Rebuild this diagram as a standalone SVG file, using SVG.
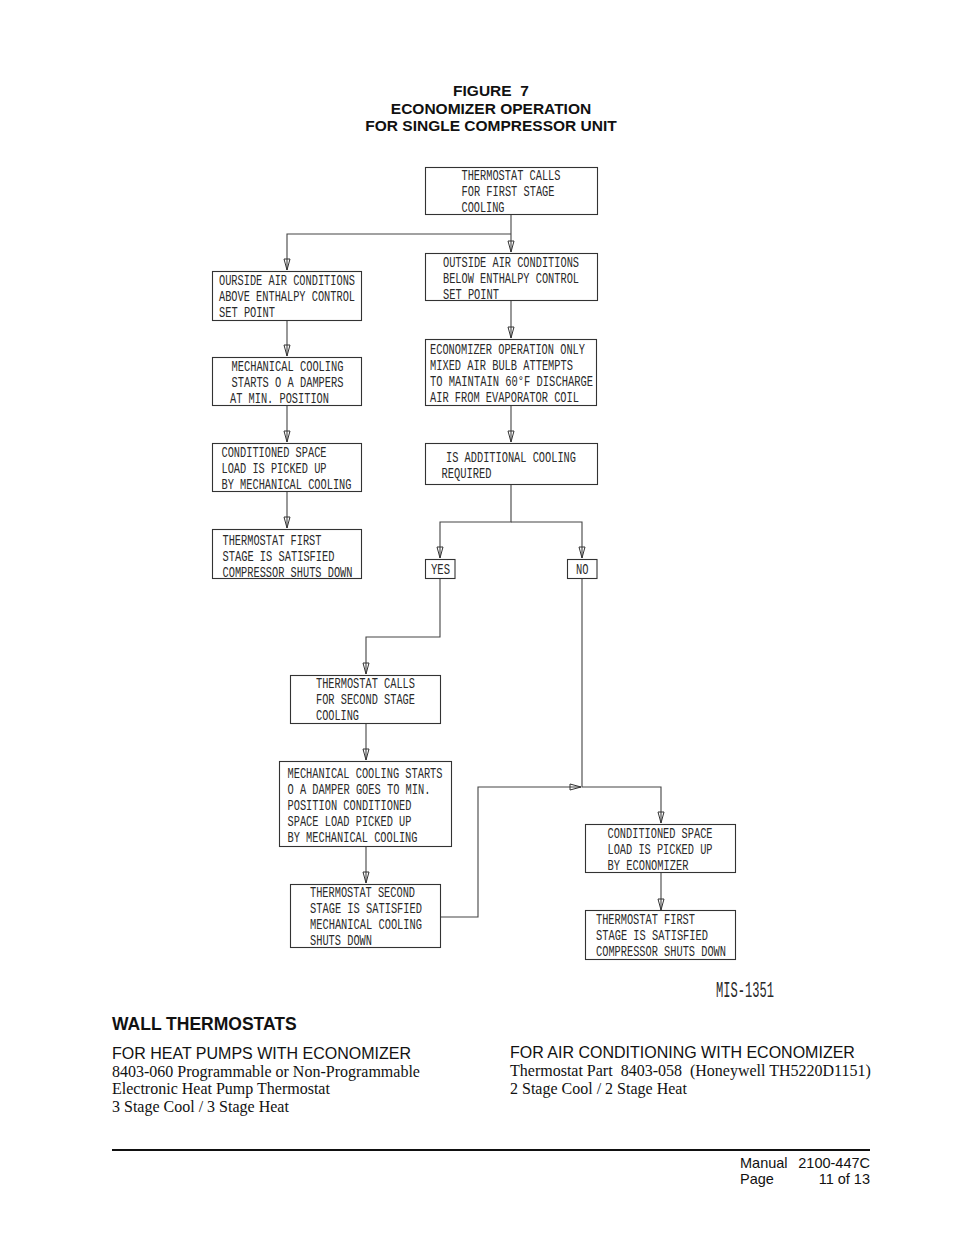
<svg xmlns="http://www.w3.org/2000/svg" width="954" height="1235" viewBox="0 0 954 1235">
<defs>
<marker id="ah" markerUnits="userSpaceOnUse" markerWidth="14" markerHeight="10" viewBox="-12 -5 14 10" refX="0" refY="0" orient="auto">
<path d="M-11,-3 L-11,3 L0,0 Z" fill="none" stroke="#333" stroke-width="1"/>
</marker>
<style>
.box{fill:#fff;stroke:#333;stroke-width:1.1}
.c{fill:none;stroke:#444;stroke-width:1.1}
.t{font-family:"Liberation Mono",monospace;font-size:15px;fill:#2a2a2a}
.h{font-family:"Liberation Sans",Arial,sans-serif;font-weight:bold;font-size:15.5px;fill:#111;text-anchor:middle}
.s{font-family:"Liberation Sans",Arial,sans-serif;fill:#111}
.r{font-family:"Liberation Serif","Times New Roman",serif;font-size:16px;fill:#111}
</style>
</defs>
<rect width="954" height="1235" fill="#fff"/>

<g id="title">
<text class="h" x="491" y="96" xml:space="preserve">FIGURE  7</text>
<text class="h" x="491" y="114">ECONOMIZER OPERATION</text>
<text class="h" x="491" y="131">FOR SINGLE COMPRESSOR UNIT</text>
</g>

<g id="connectors">
<path class="c" d="M511,215 V252" marker-end="url(#ah)"/>
<path class="c" d="M511,234 H287 V270" marker-end="url(#ah)"/>
<path class="c" d="M287,321 V356" marker-end="url(#ah)"/>
<path class="c" d="M287,406 V442" marker-end="url(#ah)"/>
<path class="c" d="M287,492 V528" marker-end="url(#ah)"/>
<path class="c" d="M511,301 V338" marker-end="url(#ah)"/>
<path class="c" d="M511,406 V442" marker-end="url(#ah)"/>
<path class="c" d="M511,484 V522 H440 V558" marker-end="url(#ah)"/>
<path class="c" d="M511,522 H582 V558" marker-end="url(#ah)"/>
<path class="c" d="M440,578 V637 H366 V674" marker-end="url(#ah)"/>
<path class="c" d="M366,723 V760" marker-end="url(#ah)"/>
<path class="c" d="M366,847 V883" marker-end="url(#ah)"/>
<path class="c" d="M441,917 H478 V787 H581" marker-end="url(#ah)"/>
<path class="c" d="M582,578 V787 H661 V823" marker-end="url(#ah)"/>
<path class="c" d="M661,873 V910" marker-end="url(#ah)"/>
</g>

<g id="n1">
<rect class="box" x="425.5" y="167.5" width="172" height="47"/>
<text class="t" x="461.5" y="180" textLength="99" lengthAdjust="spacingAndGlyphs">THERMOSTAT CALLS</text>
<text class="t" x="461.5" y="196" textLength="93" lengthAdjust="spacingAndGlyphs">FOR FIRST STAGE</text>
<text class="t" x="461.5" y="212" textLength="43" lengthAdjust="spacingAndGlyphs">COOLING</text>
</g>

<g id="n2">
<rect class="box" x="212.5" y="271.5" width="149" height="49"/>
<text class="t" x="219" y="285" textLength="136" lengthAdjust="spacingAndGlyphs">OURSIDE AIR CONDITIONS</text>
<text class="t" x="219" y="301" textLength="136" lengthAdjust="spacingAndGlyphs">ABOVE ENTHALPY CONTROL</text>
<text class="t" x="219" y="317" textLength="56" lengthAdjust="spacingAndGlyphs">SET POINT</text>
</g>

<g id="n3">
<rect class="box" x="425.5" y="253.5" width="172" height="47"/>
<text class="t" x="443" y="267" textLength="136" lengthAdjust="spacingAndGlyphs">OUTSIDE AIR CONDITIONS</text>
<text class="t" x="443" y="283" textLength="136" lengthAdjust="spacingAndGlyphs">BELOW ENTHALPY CONTROL</text>
<text class="t" x="443" y="298.5" textLength="56" lengthAdjust="spacingAndGlyphs">SET POINT</text>
</g>

<g id="n4">
<rect class="box" x="212.5" y="357.5" width="149" height="48"/>
<text class="t" x="231.5" y="371" textLength="112" lengthAdjust="spacingAndGlyphs">MECHANICAL COOLING</text>
<text class="t" x="231.5" y="387" textLength="112" lengthAdjust="spacingAndGlyphs">STARTS O A DAMPERS</text>
<text class="t" x="230" y="403" textLength="99" lengthAdjust="spacingAndGlyphs">AT MIN. POSITION</text>
</g>

<g id="n5">
<rect class="box" x="425.5" y="339.5" width="171" height="66"/>
<text class="t" x="430" y="354" textLength="155" lengthAdjust="spacingAndGlyphs">ECONOMIZER OPERATION ONLY</text>
<text class="t" x="430" y="370" textLength="143" lengthAdjust="spacingAndGlyphs">MIXED AIR BULB ATTEMPTS</text>
<text class="t" x="430" y="386" textLength="163" lengthAdjust="spacingAndGlyphs">TO MAINTAIN 60°F DISCHARGE</text>
<text class="t" x="430" y="402" textLength="149" lengthAdjust="spacingAndGlyphs">AIR FROM EVAPORATOR COIL</text>
</g>

<g id="n6">
<rect class="box" x="212.5" y="443.5" width="149" height="48"/>
<text class="t" x="221.5" y="457" textLength="105" lengthAdjust="spacingAndGlyphs">CONDITIONED SPACE</text>
<text class="t" x="221.5" y="473" textLength="105" lengthAdjust="spacingAndGlyphs">LOAD IS PICKED UP</text>
<text class="t" x="221.5" y="489" textLength="130" lengthAdjust="spacingAndGlyphs">BY MECHANICAL COOLING</text>
</g>

<g id="n7">
<rect class="box" x="425.5" y="443.5" width="172" height="41"/>
<text class="t" x="446" y="462" textLength="130" lengthAdjust="spacingAndGlyphs">IS ADDITIONAL COOLING</text>
<text class="t" x="441.5" y="478" textLength="50" lengthAdjust="spacingAndGlyphs">REQUIRED</text>
</g>

<g id="n8">
<rect class="box" x="212.5" y="529.5" width="149" height="49"/>
<text class="t" x="222.5" y="545" textLength="99" lengthAdjust="spacingAndGlyphs">THERMOSTAT FIRST</text>
<text class="t" x="222.5" y="561" textLength="112" lengthAdjust="spacingAndGlyphs">STAGE IS SATISFIED</text>
<text class="t" x="222.5" y="577" textLength="130" lengthAdjust="spacingAndGlyphs">COMPRESSOR SHUTS DOWN</text>
</g>

<g id="yes">
<rect class="box" x="425.5" y="559.5" width="29.5" height="19"/>
<text class="t" x="431" y="574" textLength="19" lengthAdjust="spacingAndGlyphs">YES</text>
</g>

<g id="no">
<rect class="box" x="567.5" y="559.5" width="29.5" height="19"/>
<text class="t" x="576" y="574" textLength="12.5" lengthAdjust="spacingAndGlyphs">NO</text>
</g>

<g id="n9">
<rect class="box" x="290.5" y="675.5" width="150" height="48"/>
<text class="t" x="316" y="688" textLength="99" lengthAdjust="spacingAndGlyphs">THERMOSTAT CALLS</text>
<text class="t" x="316" y="704" textLength="99" lengthAdjust="spacingAndGlyphs">FOR SECOND STAGE</text>
<text class="t" x="316" y="720" textLength="43" lengthAdjust="spacingAndGlyphs">COOLING</text>
</g>

<g id="n10">
<rect class="box" x="279.5" y="761.5" width="172" height="85"/>
<text class="t" x="287.5" y="778" textLength="155" lengthAdjust="spacingAndGlyphs">MECHANICAL COOLING STARTS</text>
<text class="t" x="287.5" y="794" textLength="143" lengthAdjust="spacingAndGlyphs">O A DAMPER GOES TO MIN.</text>
<text class="t" x="287.5" y="810" textLength="124" lengthAdjust="spacingAndGlyphs">POSITION CONDITIONED</text>
<text class="t" x="287.5" y="826" textLength="124" lengthAdjust="spacingAndGlyphs">SPACE LOAD PICKED UP</text>
<text class="t" x="287.5" y="842" textLength="130" lengthAdjust="spacingAndGlyphs">BY MECHANICAL COOLING</text>
</g>

<g id="n11">
<rect class="box" x="290.5" y="884.5" width="150" height="63"/>
<text class="t" x="310" y="897" textLength="105" lengthAdjust="spacingAndGlyphs">THERMOSTAT SECOND</text>
<text class="t" x="310" y="913" textLength="112" lengthAdjust="spacingAndGlyphs">STAGE IS SATISFIED</text>
<text class="t" x="310" y="929" textLength="112" lengthAdjust="spacingAndGlyphs">MECHANICAL COOLING</text>
<text class="t" x="310" y="945" textLength="62" lengthAdjust="spacingAndGlyphs">SHUTS DOWN</text>
</g>

<g id="n12">
<rect class="box" x="585.5" y="824.5" width="150" height="48"/>
<text class="t" x="607.5" y="838" textLength="105" lengthAdjust="spacingAndGlyphs">CONDITIONED SPACE</text>
<text class="t" x="607.5" y="854" textLength="105" lengthAdjust="spacingAndGlyphs">LOAD IS PICKED UP</text>
<text class="t" x="607.5" y="870" textLength="81" lengthAdjust="spacingAndGlyphs">BY ECONOMIZER</text>
</g>

<g id="n13">
<rect class="box" x="585.5" y="910.5" width="150" height="49"/>
<text class="t" x="596" y="924" textLength="99" lengthAdjust="spacingAndGlyphs">THERMOSTAT FIRST</text>
<text class="t" x="596" y="940" textLength="112" lengthAdjust="spacingAndGlyphs">STAGE IS SATISFIED</text>
<text class="t" x="596" y="956" textLength="130" lengthAdjust="spacingAndGlyphs">COMPRESSOR SHUTS DOWN</text>
</g>

<text class="t" x="716" y="997" style="font-size:22px" textLength="58" lengthAdjust="spacingAndGlyphs">MIS-1351</text>

<g id="footer-text">
<text class="s" x="112" y="1030" font-size="17.5" font-weight="bold">WALL THERMOSTATS</text>
<text class="s" x="112" y="1059" font-size="16">FOR HEAT PUMPS WITH ECONOMIZER</text>
<text class="r" x="112" y="1077">8403-060 Programmable or Non-Programmable</text>
<text class="r" x="112" y="1094">Electronic Heat Pump Thermostat</text>
<text class="r" x="112" y="1112">3 Stage Cool / 3 Stage Heat</text>
<text class="s" x="510" y="1058" font-size="16">FOR AIR CONDITIONING WITH ECONOMIZER</text>
<text class="r" x="510" y="1076" xml:space="preserve">Thermostat Part  8403-058  (Honeywell TH5220D1151)</text>
<text class="r" x="510" y="1094">2 Stage Cool / 2 Stage Heat</text>
<line x1="112" y1="1150" x2="870" y2="1150" stroke="#111" stroke-width="2"/>
<text class="s" x="740" y="1168" font-size="14.5">Manual</text>
<text class="s" x="870" y="1168" font-size="14.5" text-anchor="end">2100-447C</text>
<text class="s" x="740" y="1184" font-size="14.5">Page</text>
<text class="s" x="870" y="1184" font-size="14.5" text-anchor="end">11 of 13</text>
</g>
</svg>
